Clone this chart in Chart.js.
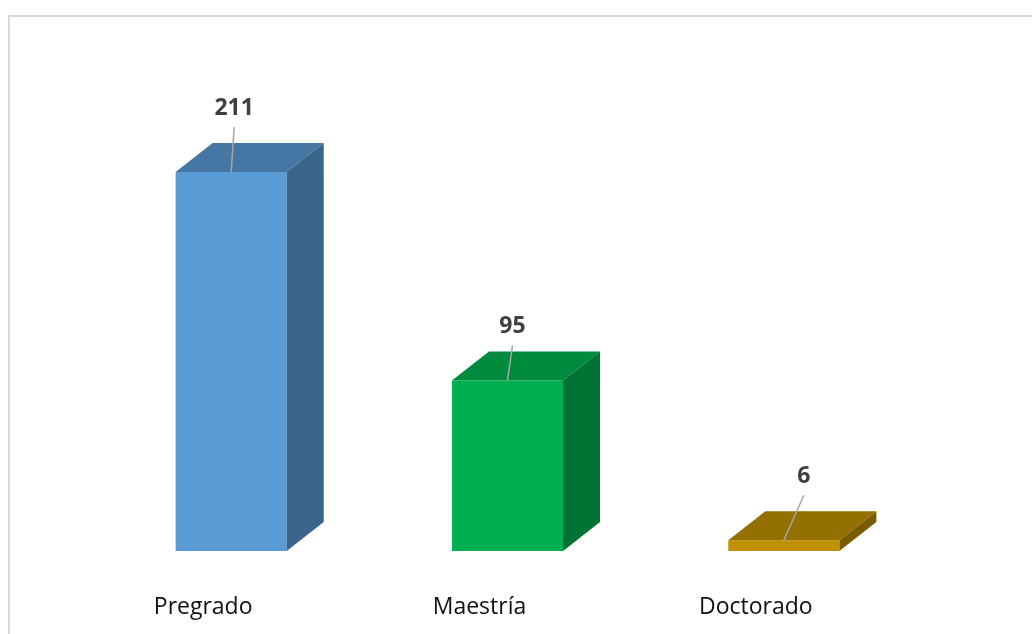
<!DOCTYPE html>
<html>
<head>
<meta charset="utf-8">
<script src="https://cdn.jsdelivr.net/npm/chart.js@4.4.0/dist/chart.umd.min.js"></script>
<style>
  body { margin: 0; background: #fff; }
  #wrap { position: relative; width: 1032px; height: 634px; }
</style>
</head>
<body>
<div id="wrap"><canvas id="grafica"></canvas></div>
<script>
const categorias = ['Pregrado', 'Maestría', 'Doctorado'];
const valores = [211, 95, 6];

// colores: cara frontal, tapa y lado de cada barra
const frente = ['#5B9BD5', '#00B050', '#BF9000'];
const tapa = ['#4676A4', '#008A3E', '#937000'];
const lado = ['#3A6489', '#007234', '#7A5C00'];

// desplazamiento de cada etiqueta respecto al centro de la cara frontal
const ajusteEtiqueta = [[3, -65], [5, -55], [20, -65]];
const fondo = { dx: 37, dy: 29 };

const marco = {
    id: 'marco',
    beforeDraw(chart) {
        const ctx = chart.ctx;
        ctx.save();
        ctx.strokeStyle = '#d9d9d9';
        ctx.lineWidth = 2;
        ctx.strokeRect(9, 16, 1200, 800);
        ctx.restore();
    }
};

const barras3d = {
    id: 'barras3d',
    afterDatasetsDraw(chart) {
        const ctx = chart.ctx;
        const meta = chart.getDatasetMeta(0);
        meta.data.forEach((bar, i) => {
            const x0 = bar.x - bar.width / 2;
            const x1 = bar.x + bar.width / 2;
            const top = bar.y;
            const base = bar.base;
            ctx.save();
            // tapa
            ctx.fillStyle = tapa[i];
            ctx.beginPath();
            ctx.moveTo(x0, top);
            ctx.lineTo(x0 + fondo.dx, top - fondo.dy);
            ctx.lineTo(x1 + fondo.dx, top - fondo.dy);
            ctx.lineTo(x1, top);
            ctx.closePath();
            ctx.fill();
            // lado
            ctx.fillStyle = lado[i];
            ctx.beginPath();
            ctx.moveTo(x1, top);
            ctx.lineTo(x1 + fondo.dx, top - fondo.dy);
            ctx.lineTo(x1 + fondo.dx, base - fondo.dy);
            ctx.lineTo(x1, base);
            ctx.closePath();
            ctx.fill();

            // etiqueta con linea guia
            const lx = bar.x + ajusteEtiqueta[i][0];
            const ly = top + ajusteEtiqueta[i][1];
            ctx.strokeStyle = '#a6a6a6';
            ctx.lineWidth = 1.5;
            ctx.beginPath();
            ctx.moveTo(lx, ly + 20);
            ctx.lineTo(bar.x, top);
            ctx.stroke();
            ctx.fillStyle = '#404040';
            ctx.font = 'bold 23px "Open Sans"';
            ctx.textAlign = 'center';
            ctx.textBaseline = 'middle';
            ctx.fillText(String(valores[i]), lx, ly + 1);
            ctx.restore();
        });
    }
};

const config = {
    type: 'bar',
    data: {
        labels: categorias,
        datasets: [{
            data: valores,
            backgroundColor: frente,
            borderWidth: 0,
            barPercentage: 1,
            categoryPercentage: 0.402
        }]
    },
    options: {
        responsive: true,
        maintainAspectRatio: false,
        animation: false,
        layout: { padding: { left: 93, right: 110, top: 102, bottom: 0 } },
        plugins: {
            legend: { display: false },
            tooltip: { enabled: false }
        },
        scales: {
            x: {
                grid: { display: false },
                border: { display: false },
                afterFit(scale) { scale.height = 83; },
                ticks: {
                    color: '#111111',
                    font: { family: '"Open Sans"', size: 23 },
                    padding: 35,
                    labelOffset: -28
                }
            },
            y: {
                display: false,
                min: 0,
                max: 250
            }
        }
    },
    plugins: [marco, barras3d]
};

new Chart(document.getElementById('grafica').getContext('2d'), config);
</script>
</body>
</html>
